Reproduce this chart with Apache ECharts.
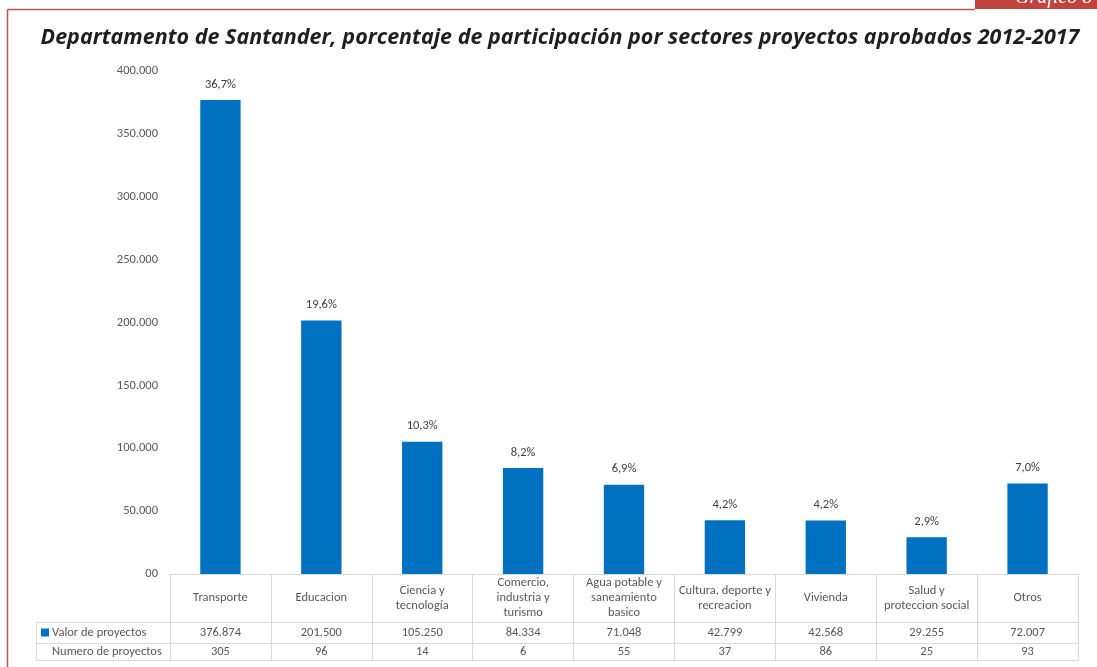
<!DOCTYPE html>
<html>
<head>
<meta charset="utf-8">
<script src="https://cdn.jsdelivr.net/npm/echarts@6/dist/echarts.min.js"></script>
<style>
  html, body { margin: 0; padding: 0; background: #fff; }
  #chart { width: 1097px; height: 667px; }
</style>
</head>
<body>
<div id="chart"></div>
<script>
const sectores = ['Transporte', 'Educacion', 'Ciencia y\ntecnología', 'Comercio,\nindustria y\nturismo',
  'Agua potable y\nsaneamiento\nbasico', 'Cultura, deporte y\nrecreacion', 'Vivienda',
  'Salud y\nproteccion social', 'Otros'];
const valores = [376874, 201500, 105250, 84334, 71048, 42799, 42568, 29255, 72007];
const porcentajes = ['36,7%', '19,6%', '10,3%', '8,2%', '6,9%', '4,2%', '4,2%', '2,9%', '7,0%'];
const numeroProyectos = [305, 96, 14, 6, 55, 37, 86, 25, 93];

const lineColor = '#d9d9d9';
const textColor = '#595959';
const fontFamily = 'Calibri, Carlito, "Open Sans", sans-serif';
const fontSize = 12.5;

function miles(v) {
  return String(v).replace(/\B(?=(\d{3})+(?!\d))/g, '.');
}

let myChart = echarts.init(document.getElementById('chart'));

// one extra x axis per table row, the first one also draws the column borders
const rowAxis = (offset, margin, labels) => ({
  type: 'category',
  data: sectores,
  position: 'bottom',
  offset: offset,
  axisLine: { show: true, lineStyle: { color: lineColor } },
  axisTick: { show: false },
  axisLabel: {
    show: !!labels,
    interval: 0,
    margin: margin,
    verticalAlign: 'middle',
    color: textColor,
    fontSize: fontSize,
    fontFamily: fontFamily,
    formatter: (v, i) => labels ? String(labels[i]) : ''
  }
});

myChart.setOption({
  animation: false,
  title: {
    text: 'Departamento de Santander, porcentaje de participación por sectores proyectos aprobados 2012-2017',
    left: 555,
    textAlign: 'center',
    top: 22,
    textStyle: { fontSize: 21.5, fontWeight: 'bold', fontStyle: 'italic', color: '#1f1f1f', fontFamily: '"Open Sans", sans-serif' }
  },
  legend: {
    data: ['Valor de proyectos'],
    left: 41,
    top: 626,
    icon: 'rect',
    itemWidth: 8,
    itemHeight: 8,
    itemGap: 3,
    padding: 0,
    textStyle: { color: textColor, fontSize: fontSize, fontFamily: fontFamily, padding: [0, 0, 0, -2] }
  },
  grid: { left: 170, right: 19, top: 71, bottom: 93, containLabel: false },
  xAxis: [
    {
      type: 'category',
      data: sectores,
      position: 'bottom',
      axisLine: { show: true, lineStyle: { color: lineColor } },
      axisTick: { show: true, interval: 0, length: 86, lineStyle: { color: lineColor } },
      axisLabel: {
        interval: 0,
        margin: 24,
        verticalAlign: 'middle',
        lineHeight: 15,
        color: textColor,
        fontSize: fontSize,
        fontFamily: fontFamily
      }
    },
    rowAxis(48, 10.5, valores.map(miles)),
    rowAxis(69, 8.5, numeroProyectos),
    rowAxis(86, 0, null)
  ],
  yAxis: {
    type: 'value',
    min: 0,
    max: 400000,
    interval: 50000,
    axisLine: { show: false },
    axisTick: { show: false },
    splitLine: { show: false },
    axisLabel: {
      margin: 12,
      color: textColor,
      fontSize: fontSize,
      fontFamily: fontFamily,
      formatter: v => v === 0 ? '00' : miles(v / 1000) + '.000'
    }
  },
  series: [{
    name: 'Valor de proyectos',
    type: 'bar',
    data: valores,
    barWidth: '40%',
    itemStyle: { color: '#0070C0' },
    label: {
      show: true,
      position: 'top',
      distance: 9,
      color: '#404040',
      fontSize: fontSize,
      fontFamily: fontFamily,
      formatter: p => porcentajes[p.dataIndex]
    }
  }],
  graphic: [
    // frame of the page
    { type: 'line', shape: { x1: 7.5, y1: 9.5, x2: 975, y2: 9.5 }, style: { stroke: '#c0504d', lineWidth: 1.5 } },
    { type: 'line', shape: { x1: 7.5, y1: 9.5, x2: 7.5, y2: 667 }, style: { stroke: '#c0504d', lineWidth: 1.5 } },
    { type: 'rect', shape: { x: 975, y: 0, width: 122, height: 9 }, style: { fill: '#c0443b' } },
    { type: 'text', x: 1015, y: -12, style: { text: 'Gráfico 8', fill: '#fff', font: 'italic 20px "Liberation Serif", serif' } },
    // left column of the data table
    { type: 'line', shape: { x1: 36.5, y1: 622.5, x2: 170, y2: 622.5 }, style: { stroke: lineColor } },
    { type: 'line', shape: { x1: 36.5, y1: 643.5, x2: 170, y2: 643.5 }, style: { stroke: lineColor } },
    { type: 'line', shape: { x1: 36.5, y1: 660.5, x2: 170, y2: 660.5 }, style: { stroke: lineColor } },
    { type: 'line', shape: { x1: 36.5, y1: 622.5, x2: 36.5, y2: 660.5 }, style: { stroke: lineColor } },
    { type: 'text', x: 52, y: 652, style: { text: 'Numero de proyectos', fill: textColor, font: fontSize + 'px ' + fontFamily, verticalAlign: 'middle' } }
  ]
});
</script>
</body>
</html>
